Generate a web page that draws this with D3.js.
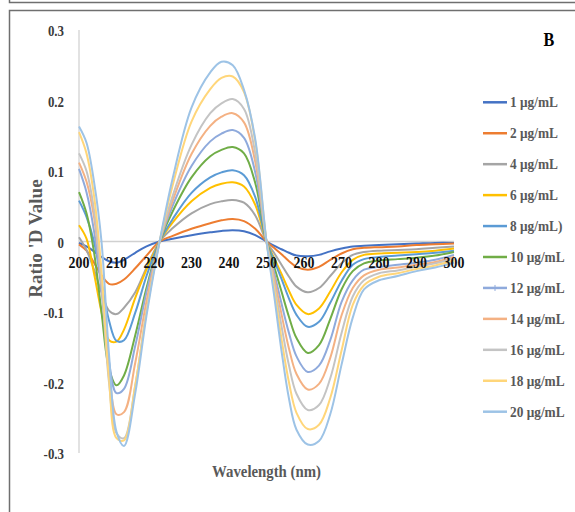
<!DOCTYPE html>
<html>
<head>
<meta charset="utf-8">
<script src="https://cdn.jsdelivr.net/npm/d3@7"></script>
<style>
  body { margin: 0; background: #fff; }
  svg { display: block; }
  text { font-family: "Liberation Serif", "Times New Roman", serif; font-weight: bold; }
</style>
</head>
<body>
<svg id="chart" width="575" height="512"></svg>
<script>
// Wavelength grid (nm)
const wavelengths = [200, 202, 204, 206, 208, 210, 212, 215, 218, 221.5, 225, 230, 235, 238, 241, 244, 247, 250,
  252, 254, 256, 258, 261, 264, 267, 270, 273, 276, 280, 285, 290, 295, 300];

// Ratio first-derivative values for each concentration
const conc1 = [-0.002, -0.007, -0.014, -0.022, -0.028, -0.030, -0.026, -0.016, -0.007, 0, 0.004, 0.009, 0.013, 0.015, 0.016, 0.0145, 0.009, 0,
  -0.006, -0.011, -0.016, -0.020, -0.021, -0.019, -0.014, -0.010, -0.007, -0.006, -0.005, -0.004, -0.003, -0.002, -0.002];
const conc2 = [-0.004, -0.013, -0.030, -0.048, -0.060, -0.060, -0.054, -0.038, -0.020, 0, 0.008, 0.018, 0.026, 0.030, 0.032, 0.029, 0.018, 0,
  -0.009, -0.018, -0.028, -0.036, -0.040, -0.036, -0.026, -0.017, -0.011, -0.009, -0.008, -0.007, -0.005, -0.004, -0.003];
const conc4 = [0.006, -0.012, -0.040, -0.072, -0.098, -0.103, -0.094, -0.072, -0.037, 0, 0.019, 0.040, 0.053, 0.057, 0.059, 0.055, 0.037, 0,
  -0.016, -0.033, -0.050, -0.064, -0.072, -0.066, -0.049, -0.031, -0.019, -0.015, -0.013, -0.012, -0.011, -0.009, -0.007];
const conc6 = [0.023, 0.004, -0.045, -0.100, -0.140, -0.142, -0.125, -0.080, -0.040, 0, 0.027, 0.057, 0.076, 0.082, 0.084, 0.078, 0.052, 0,
  -0.023, -0.046, -0.070, -0.090, -0.103, -0.095, -0.071, -0.044, -0.026, -0.019, -0.017, -0.016, -0.015, -0.013, -0.010];
const conc8 = [0.058, 0.035, 0.000, -0.058, -0.112, -0.141, -0.140, -0.101, -0.049, 0, 0.032, 0.069, 0.091, 0.098, 0.101, 0.094, 0.063, 0,
  -0.026, -0.053, -0.081, -0.104, -0.121, -0.114, -0.087, -0.056, -0.033, -0.025, -0.022, -0.020, -0.018, -0.016, -0.013];
const conc10 = [0.070, 0.040, -0.015, -0.100, -0.180, -0.204, -0.190, -0.133, -0.066, 0, 0.043, 0.091, 0.121, 0.130, 0.134, 0.125, 0.083, 0,
  -0.035, -0.071, -0.107, -0.137, -0.158, -0.147, -0.110, -0.068, -0.042, -0.031, -0.027, -0.025, -0.023, -0.020, -0.015];
const conc12 = [0.103, 0.070, 0.015, -0.070, -0.170, -0.215, -0.209, -0.148, -0.072, 0, 0.051, 0.107, 0.142, 0.153, 0.158, 0.147, 0.098, 0,
  -0.043, -0.088, -0.130, -0.163, -0.185, -0.176, -0.140, -0.086, -0.055, -0.040, -0.036, -0.033, -0.030, -0.026, -0.019];
const conc14 = [0.112, 0.085, 0.035, -0.060, -0.180, -0.245, -0.242, -0.172, -0.085, 0, 0.058, 0.124, 0.164, 0.177, 0.182, 0.169, 0.113, 0,
  -0.050, -0.103, -0.152, -0.188, -0.210, -0.202, -0.165, -0.105, -0.066, -0.048, -0.040, -0.037, -0.033, -0.029, -0.022];
const conc16 = [0.125, 0.100, 0.045, -0.060, -0.200, -0.272, -0.279, -0.204, -0.099, 0, 0.065, 0.137, 0.182, 0.196, 0.202, 0.188, 0.125, 0,
  -0.058, -0.120, -0.176, -0.216, -0.239, -0.232, -0.194, -0.130, -0.078, -0.055, -0.045, -0.041, -0.036, -0.031, -0.024];
const conc18 = [0.155, 0.125, 0.065, -0.042, -0.194, -0.279, -0.282, -0.204, -0.100, 0, 0.080, 0.170, 0.216, 0.232, 0.234, 0.212, 0.142, 0,
  -0.066, -0.138, -0.200, -0.243, -0.266, -0.260, -0.222, -0.155, -0.090, -0.062, -0.050, -0.045, -0.039, -0.034, -0.027];
const conc20 = [0.163, 0.140, 0.085, 0.000, -0.160, -0.270, -0.290, -0.215, -0.105, 0, 0.090, 0.190, 0.240, 0.255, 0.250, 0.215, 0.145, 0,
  -0.075, -0.155, -0.223, -0.267, -0.288, -0.283, -0.245, -0.175, -0.108, -0.068, -0.055, -0.049, -0.042, -0.037, -0.030];

const seriesLabels = ["1 μg/mL", "2 μg/mL", "4 μg/mL", "6 μg/mL", "8 μg/mL)", "10 μg/mL",
  "12 μg/mL", "14 μg/mL", "16 μg/mL", "18 μg/mL", "20 μg/mL"];
const seriesValues = [conc1, conc2, conc4, conc6, conc8, conc10, conc12, conc14, conc16, conc18, conc20];
const seriesColors = ["#4472C4", "#ED7D31", "#A5A5A5", "#FFC000", "#5B9BD5", "#70AD47",
  "#8FAADC", "#F4B183", "#C4C4C4", "#FFD67A", "#9DC3E6"];

const xTicks = [200, 210, 220, 230, 240, 250, 260, 270, 280, 290, 300];
const yTicks = [-0.3, -0.2, -0.1, 0, 0.1, 0.2, 0.3];

const svg = d3.select("#chart");

// Panel frames
const frame = "#6f6f6f";
svg.append("path").attr("d", "M9.5,0 V2.5 H575").attr("fill", "none").attr("stroke", frame).attr("stroke-width", 1.5);
svg.append("path").attr("d", "M9.5,512 V10.5 H575").attr("fill", "none").attr("stroke", frame).attr("stroke-width", 1.5);

const x = d3.scaleLinear().domain([200, 300]).range([79, 454]);
const y = d3.scaleLinear().domain([-0.3, 0.3]).range([453, 30]);

// Axis lines (vertical at 200 nm, horizontal at zero)
svg.append("line").attr("x1", x(200)).attr("x2", x(200)).attr("y1", y(0.3)).attr("y2", y(-0.3))
  .attr("stroke", "#d9d9d9").attr("stroke-width", 1.5);
svg.append("line").attr("x1", x(200)).attr("x2", x(300)).attr("y1", y(0)).attr("y2", y(0))
  .attr("stroke", "#d0d0d0").attr("stroke-width", 1.5);

// Helper: horizontally condensed text
function label(px, py, str, size, fill, anchor, sx) {
  const g = svg.append("g").attr("transform", `translate(${px},${py})`);
  g.append("text").attr("transform", `scale(${sx},1)`)
    .attr("text-anchor", anchor).attr("font-size", size).attr("fill", fill).text(str);
  return g;
}

// Y tick labels
yTicks.forEach(t => {
  label(64, y(t) + 6, t === 0 ? "0" : String(t), 15, "#3a3a3a", "end", 0.86);
});

// Curves
const line = d3.line()
  .x((d, i) => x(wavelengths[i]))
  .y(d => y(d))
  .curve(d3.curveCatmullRom.alpha(0.5));

svg.append("g").selectAll("path")
  .data(seriesValues)
  .join("path")
  .attr("d", line)
  .attr("fill", "none")
  .attr("stroke", (d, i) => seriesColors[i])
  .attr("stroke-width", 2);

// X tick labels sit just under the zero line, drawn over the curves
xTicks.forEach(t => {
  label(x(t), y(0) + 26.5, String(t), 17, "#111", "middle", 0.82);
});

// Legend
const legendY0 = 102.3, legendStep = 30.94;
seriesLabels.forEach((lab, i) => {
  const ly = legendY0 + legendStep * i;
  svg.append("line").attr("x1", 483).attr("x2", 507).attr("y1", ly).attr("y2", ly)
    .attr("stroke", seriesColors[i]).attr("stroke-width", 2.5);
  if (i === 6) {
    svg.append("line").attr("x1", 495).attr("x2", 495).attr("y1", ly - 3).attr("y2", ly + 3)
      .attr("stroke", seriesColors[i]).attr("stroke-width", 1);
  }
  label(510, ly + 5, lab, 15, "#595959", "start", 0.89);
});

// Axis titles and panel letter
label(266.5, 477, "Wavelength (nm)", 17, "#595959", "start", 0.87).select("text").attr("text-anchor", "middle");
svg.append("text")
  .attr("transform", `translate(42,${238.5}) rotate(-90)`)
  .attr("text-anchor", "middle").attr("font-size", 19).attr("fill", "#595959")
  .text("Ratio 'D Value");
label(549, 46, "B", 19, "#000", "middle", 0.85);
</script>
</body>
</html>
